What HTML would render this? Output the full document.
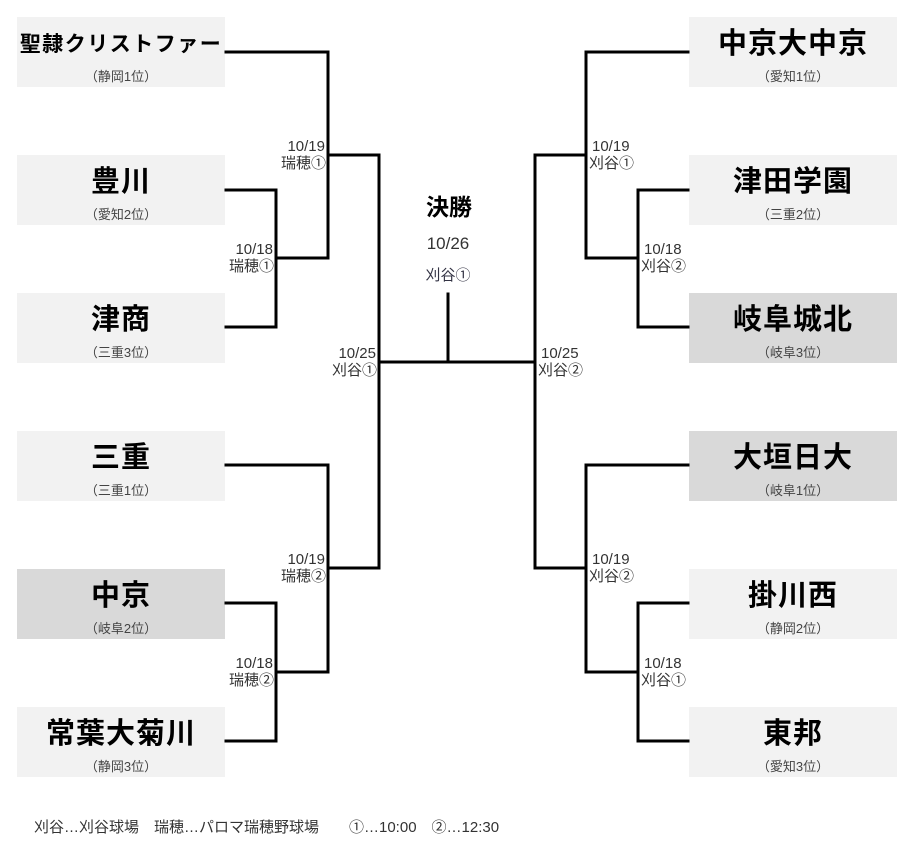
<!DOCTYPE html>
<html><head><meta charset="utf-8"><style>
html,body{margin:0;padding:0;background:#fff;}
svg{display:block;}
text{font-family:"Liberation Sans","Noto Sans CJK JP",sans-serif;}
.n{font-weight:bold;font-size:29px;fill:#000;text-anchor:middle;letter-spacing:1px;}
.s{font-size:13px;fill:#444;text-anchor:middle;}
.l{font-size:15px;fill:#333;}
.r{text-anchor:end;}
</style></head><body>
<svg width="915" height="863" viewBox="0 0 915 863" xmlns="http://www.w3.org/2000/svg">
<g>
<rect x="17" y="17" width="208" height="70" fill="#f2f2f2"/>
<rect x="17" y="155" width="208" height="70" fill="#f2f2f2"/>
<rect x="17" y="293" width="208" height="70" fill="#f2f2f2"/>
<rect x="17" y="431" width="208" height="70" fill="#f2f2f2"/>
<rect x="17" y="569" width="208" height="70" fill="#d9d9d9"/>
<rect x="17" y="707" width="208" height="70" fill="#f2f2f2"/>
<rect x="689" y="17" width="208" height="70" fill="#f2f2f2"/>
<rect x="689" y="155" width="208" height="70" fill="#f2f2f2"/>
<rect x="689" y="293" width="208" height="70" fill="#d9d9d9"/>
<rect x="689" y="431" width="208" height="70" fill="#d9d9d9"/>
<rect x="689" y="569" width="208" height="70" fill="#f2f2f2"/>
<rect x="689" y="707" width="208" height="70" fill="#f2f2f2"/>
</g>
<g class="n">
<text x="121" y="51" style="font-size:21px;letter-spacing:1.5px">聖隷クリストファー</text>
<text x="121" y="191">豊川</text>
<text x="121" y="329">津商</text>
<text x="121" y="467">三重</text>
<text x="121" y="605">中京</text>
<text x="121" y="743">常葉大菊川</text>
<text x="793" y="53">中京大中京</text>
<text x="793" y="191">津田学園</text>
<text x="793" y="329">岐阜城北</text>
<text x="793" y="467">大垣日大</text>
<text x="793" y="605">掛川西</text>
<text x="793" y="743">東邦</text>
</g>
<g class="s">
<text x="121" y="81">（静岡1位）</text>
<text x="121" y="219">（愛知2位）</text>
<text x="121" y="357">（三重3位）</text>
<text x="121" y="495">（三重1位）</text>
<text x="121" y="633">（岐阜2位）</text>
<text x="121" y="771">（静岡3位）</text>
<text x="793" y="81">（愛知1位）</text>
<text x="793" y="219">（三重2位）</text>
<text x="793" y="357">（岐阜3位）</text>
<text x="793" y="495">（岐阜1位）</text>
<text x="793" y="633">（静岡2位）</text>
<text x="793" y="771">（愛知3位）</text>
</g>
<g fill="none" stroke="#000" stroke-width="3" stroke-linejoin="miter" stroke-linecap="square">
<polyline points="226,52 328,52 328,258 276,258"/>
<polyline points="226,190 276,190 276,327 226,327"/>
<polyline points="328,155 379,155 379,568 328,568"/>
<polyline points="226,465 328,465 328,672 276,672"/>
<polyline points="226,603 276,603 276,741 226,741"/>
<line x1="379" y1="362" x2="535" y2="362"/>
<line x1="448" y1="294" x2="448" y2="362"/>
<polyline points="688,52 586,52 586,258 638,258"/>
<polyline points="688,190 638,190 638,327 688,327"/>
<polyline points="586,155 535,155 535,568 586,568"/>
<polyline points="688,465 586,465 586,672 638,672"/>
<polyline points="688,603 638,603 638,741 688,741"/>
</g>
<g class="l r">
<text x="325" y="151">10/19</text><text x="326" y="168">瑞穂①</text>
<text x="273" y="254">10/18</text><text x="274" y="271">瑞穂①</text>
<text x="376" y="358">10/25</text><text x="377" y="375">刈谷①</text>
<text x="325" y="564">10/19</text><text x="326" y="581">瑞穂②</text>
<text x="273" y="668">10/18</text><text x="274" y="685">瑞穂②</text>
</g>
<g class="l">
<text x="592" y="151">10/19</text><text x="589" y="168">刈谷①</text>
<text x="644" y="254">10/18</text><text x="641" y="271">刈谷②</text>
<text x="541" y="358">10/25</text><text x="538" y="375">刈谷②</text>
<text x="592" y="564">10/19</text><text x="589" y="581">刈谷②</text>
<text x="644" y="668">10/18</text><text x="641" y="685">刈谷①</text>
</g>
<text x="449" y="215" style="font-size:23px;font-weight:bold;text-anchor:middle">決勝</text>
<text x="448" y="249" style="font-size:17px;fill:#333;text-anchor:middle">10/26</text>
<text x="448" y="280" style="font-size:15px;fill:#334;text-anchor:middle">刈谷①</text>
<text x="34" y="832" style="font-size:15px;fill:#333">刈谷…刈谷球場　瑞穂…パロマ瑞穂野球場　　①…10:00　②…12:30</text>
</svg>
</body></html>
